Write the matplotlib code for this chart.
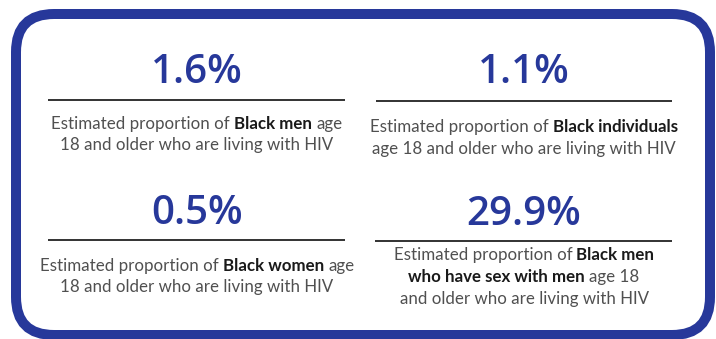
import matplotlib
matplotlib.use("Agg")
import matplotlib.pyplot as plt
from matplotlib.patches import FancyBboxPatch

# ---- data ----
values = ["1.6%", "1.1%", "0.5%", "29.9%"]
desc_1 = [[("Estimated proportion of ", False), ("Black men", True), (" age", False)],
          [("18 and older who are living with HIV", False)]]
desc_2 = [[("Estimated proportion of ", False), ("Black individuals", True)],
          [("age 18 and older who are living with HIV", False)]]
desc_3 = [[("Estimated proportion of ", False), ("Black women", True), (" age", False)],
          [("18 and older who are living with HIV", False)]]
desc_4 = [[("Estimated proportion of ", False), ("Black men", True)],
          [("who have sex with men", True), (" age 18", False)],
          [("and older who are living with HIV", False)]]
descriptions = [desc_1, desc_2, desc_3, desc_4]

# ---- layout (pixels) ----
W, H = 716, 339
BLUE = "#27389a"
centers_x = [197, 524, 197, 524]
num_base = [83, 83, 224, 225]
rule_y = [100, 101, 240, 241]
rule_x = [(48, 345), (376, 672), (48, 345), (375, 672)]
text_base = [[129, 150], [132, 154], [271, 292], [260, 282, 304]]

fig = plt.figure(figsize=(W / 100, H / 100), dpi=100)
ax = fig.add_axes([0, 0, 1, 1])
ax.set_xlim(0, W)
ax.set_ylim(H, 0)
ax.axis("off")

box = FancyBboxPatch((16, 14), 694, 321,
                     boxstyle="round,pad=0,rounding_size=38",
                     fc="white", ec=BLUE, lw=7.2)
ax.add_patch(box)

renderer = fig.canvas.get_renderer()

def text_width(s, **kw):
    t = ax.text(0, 0, s, **kw)
    w = t.get_window_extent(renderer).width
    t.remove()
    return w

NORMAL = dict(family="Lato", weight="normal", size=12.2, color="#505050")
BOLD = dict(family="Lato", weight="bold", size=12.2, color="#1a1a1a")

def seg_width(s, bold):
    kw = BOLD if bold else NORMAL
    lead = len(s) - len(s.lstrip(" "))
    trail = len(s) - len(s.rstrip(" "))
    core = s.strip(" ")
    sp = text_width("a a", **kw) - text_width("aa", **kw)
    return (text_width(core, **kw) if core else 0) + (lead + trail) * sp, lead * sp

def draw_line(segs, cx, y):
    widths = [seg_width(s, b) for s, b in segs]
    total = sum(w for w, _ in widths)
    x = cx - total / 2
    for (s, b), (w, lead) in zip(segs, widths):
        kw = BOLD if b else NORMAL
        core = s.strip(" ")
        if core:
            ax.text(x + lead, y, core, ha="left", va="baseline", **kw)
        x += w

for i in range(4):
    ax.text(centers_x[i], num_base[i], values[i], ha="center", va="baseline",
            family="Open Sans", weight="semibold", size=29, color=BLUE)
    ax.plot(rule_x[i], [rule_y[i], rule_y[i]], color="#222222", lw=1.3,
            solid_capstyle="butt")
    for segs, yb in zip(descriptions[i], text_base[i]):
        draw_line(segs, centers_x[i], yb)

fig.savefig("out.png", dpi=100)
